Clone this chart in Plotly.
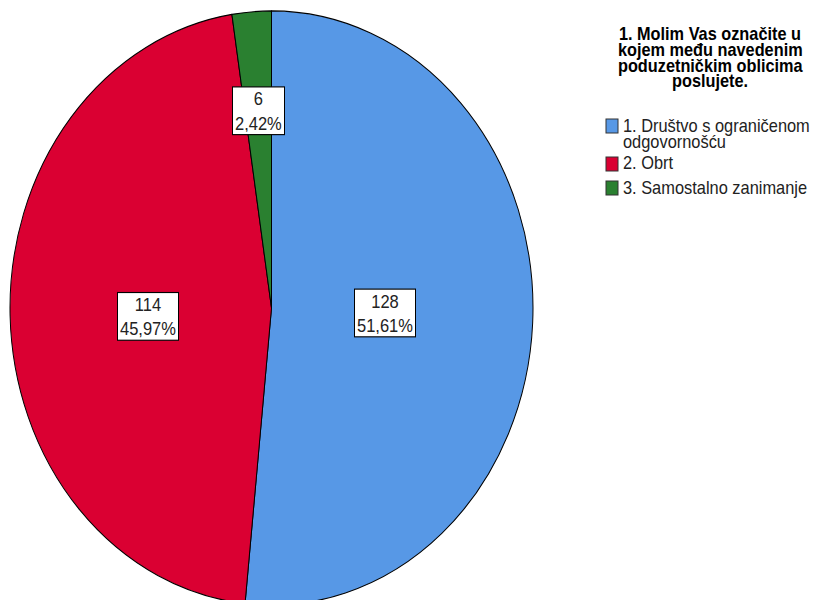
import math
import plotly.graph_objects as go

# ---- data ----
categories = ["1. Društvo s ograničenom odgovornošću", "2. Obrt", "3. Samostalno zanimanje"]
legend_lines = [["1. Društvo s ograničenom", "odgovornošću"], ["2. Obrt"], ["3. Samostalno zanimanje"]]
counts = [128, 114, 6]
colors = ["#5798E6", "#DA0032", "#2A8030"]
title_lines = ["1. Molim Vas označite u", "kojem među navedenim", "poduzetničkim oblicima", "poslujete."]

# ---- geometry (figure drawn at height HU, then stretched vertically by S) ----
W, HU, S = 814, 540, 1.136
CX, CY_S, R = 271.5, 308.0, 261.5
cy_u = CY_S / S
FONT = "Liberation Sans, Arial, sans-serif"


def py(ys):
    return 1 - (ys / S) / HU


fig = go.Figure(
    go.Pie(
        labels=categories,
        values=counts,
        sort=False,
        direction="clockwise",
        rotation=0,
        marker=dict(colors=colors, line=dict(color="#000000", width=1)),
        textinfo="none",
        hoverinfo="label+value+percent",
        showlegend=False,
        domain=dict(x=[(CX - R) / W, (CX + R) / W],
                    y=[1 - (cy_u + R) / HU, 1 - (cy_u - R) / HU]),
    )
)

# slice labels in boxes (placed along each slice's mid angle)
total = sum(counts)
label_r = [0.435, 0.473, 0.665]
label_dy = [-2, 5, 0]  # small vertical nudges, screen px
cum = 0
for v, f, dy in zip(counts, label_r, label_dy):
    mid = (cum + v / 2) / total * 2 * math.pi
    cum += v
    pct = f"{v / total * 100:.2f}".replace(".", ",") + "%"
    x = CX + f * R * math.sin(mid)
    yu = cy_u - f * R * math.cos(mid) + dy / S
    fig.add_annotation(
        x=x / W, y=1 - yu / HU, xref="paper", yref="paper",
        text=f"{v}<br>{pct}", showarrow=False,
        font=dict(family=FONT, size=16.5, color="#222222"),
        bgcolor="#FFFFFF", bordercolor="#000000", borderwidth=1, borderpad=2,
        height=37, align="center", xanchor="center", yanchor="middle",
    )

# legend title
title_y = [33, 49, 65, 81]
for t, ys in zip(title_lines, title_y):
    fig.add_annotation(
        x=710 / W, y=py(ys), xref="paper", yref="paper", text=f"<b>{t}</b>",
        showarrow=False, font=dict(family=FONT, size=16.3, color="#000000"),
        xanchor="center", yanchor="middle",
    )

# legend items
row_y = [125, 163, 187]
line_gap = 16
for lines, col, ys in zip(legend_lines, colors, row_y):
    fig.add_shape(
        type="rect", xref="paper", yref="paper",
        x0=606 / W, x1=618 / W, y0=py(ys + 8), y1=py(ys - 6),
        fillcolor=col, line=dict(color="#333333", width=1),
    )
    for i, t in enumerate(lines):
        fig.add_annotation(
            x=621 / W, y=py(ys + i * line_gap), xref="paper", yref="paper", text=t,
            showarrow=False, font=dict(family=FONT, size=16.4, color="#222222"),
            xanchor="left", yanchor="middle",
        )

fig.update_layout(
    width=W, height=HU,
    margin=dict(l=0, r=0, t=0, b=0),
    paper_bgcolor="#FFFFFF", plot_bgcolor="#FFFFFF",
    showlegend=False,
)

post = """
var gd = document.getElementById('{plot_id}');
document.documentElement.style.overflow = 'hidden';
document.body.style.margin = '0';
document.body.style.overflow = 'hidden';
gd.style.transformOrigin = '0 0';
gd.style.transform = 'scaleY(%s)';
""" % S

fig.write_html("out.html", config={"displayModeBar": False}, post_script=post)
